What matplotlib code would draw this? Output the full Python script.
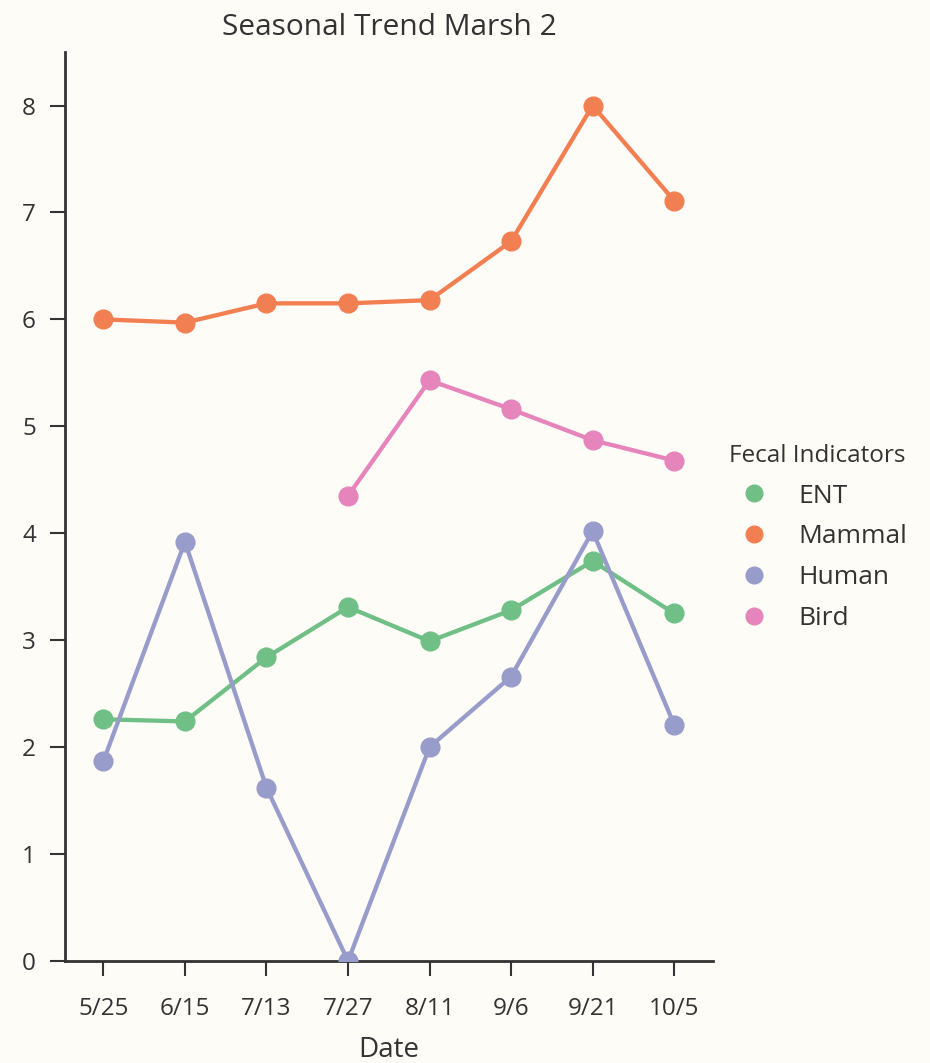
import numpy as np
import matplotlib
matplotlib.use("Agg")
import matplotlib.pyplot as plt
from matplotlib.lines import Line2D

# data
dates = ["5/25", "6/15", "7/13", "7/27", "8/11", "9/6", "9/21", "10/5"]
ent = [2.26, 2.24, 2.84, 3.31, 2.99, 3.28, 3.74, 3.25]
mammal = [6.00, 5.97, 6.15, 6.15, 6.18, 6.73, 8.00, 7.11]
human = [1.87, 3.92, 1.62, 0.00, 2.00, 2.66, 4.02, 2.21]
bird = [np.nan, np.nan, np.nan, 4.35, 5.43, 5.16, 4.87, 4.68]

names = ["ENT", "Mammal", "Human", "Bird"]
colors = ["#6fbf86", "#f27f52", "#989ccb", "#e585bb"]
bg = "#fefcf6"
txt = "#333333"

plt.rcParams['font.family'] = ['Open Sans', 'DejaVu Sans']
fig = plt.figure(figsize=(9.3, 10.63), dpi=100, facecolor=bg)
ax = fig.add_axes([0.07, 0.096, 0.697, 0.855], facecolor=bg)

x = np.arange(len(dates))
for vals, c in zip([ent, mammal, human, bird], colors):
    ax.plot(x, vals, color=c, lw=3.1, marker="o", ms=13.5, zorder=3)

ax.set_xlim(-0.47, len(dates) - 0.52)
ax.set_ylim(0, 8.5)
ax.set_xticks(x)
ax.set_xticklabels(dates)
ax.set_yticks(range(9))

for s in ["top", "right"]:
    ax.spines[s].set_visible(False)
for s in ["left", "bottom"]:
    ax.spines[s].set_color(txt)
    ax.spines[s].set_linewidth(2.0)
ax.tick_params(length=11, width=1.5, color=txt, labelsize=17.5,
               labelcolor=txt)
ax.tick_params(axis="y", pad=10)
ax.tick_params(axis="x", pad=15)
ax.set_xlabel("Date", fontsize=20, color=txt, labelpad=11)
ax.set_title("Seasonal Trend Marsh 2", fontsize=21.5, color=txt, pad=12)

handles = [Line2D([], [], ls="none", marker="o", ms=12, color=c) for c in colors]
leg = ax.legend(handles, names, title="Fecal Indicators", loc="center left",
                bbox_to_anchor=(0.985, 0.466), frameon=False, fontsize=19,
                title_fontsize=17.5, handletextpad=0.7, labelspacing=0.6)
for t in leg.get_texts():
    t.set_color(txt)
leg.get_title().set_color(txt)

fig.savefig("out.png", dpi=100, facecolor=bg)
